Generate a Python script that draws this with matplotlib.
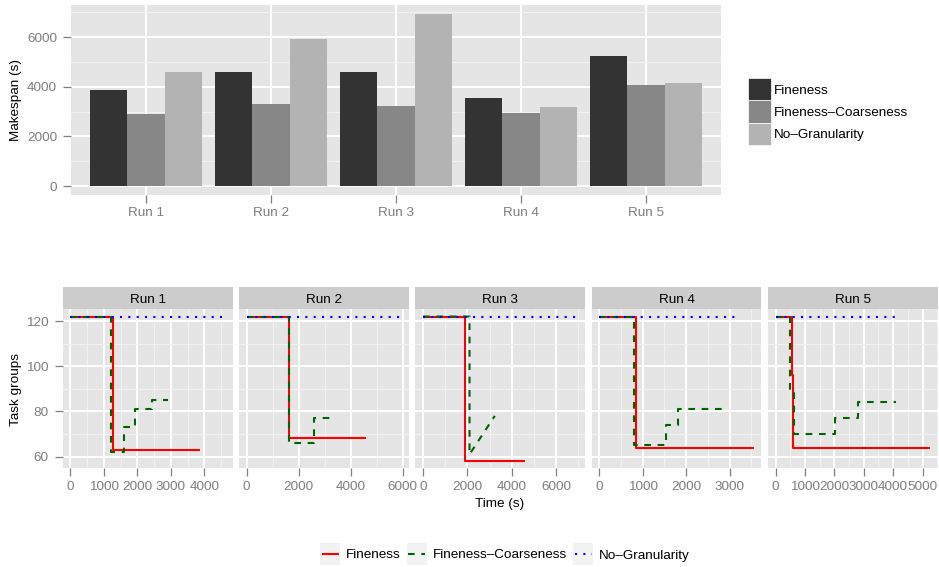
# Makespan per run (bars) and task-group traces over time (faceted lines)
import numpy as np
import matplotlib
matplotlib.use("Agg")
import matplotlib.pyplot as plt
from matplotlib.ticker import MultipleLocator
from matplotlib.patches import Rectangle
from matplotlib.lines import Line2D

# ============================================
# Data
# ============================================
runs = ["Run 1", "Run 2", "Run 3", "Run 4", "Run 5"]
policies = ["Fineness", "Fineness\u2013Coarseness", "No\u2013Granularity"]

# makespan (s) per run
makespan_fine = [3880, 4606, 4606, 3556, 5253]
makespan_coarse = [2909, 3313, 3232, 2949, 4081]
makespan_nogran = [4606, 5939, 6950, 3192, 4162]

# task group traces: vertices (time in s, number of task groups)
fine_time = [[0, 1275, 1275, 3880],
             [0, 1641, 1641, 4606],
             [0, 1906, 1906, 4606],
             [0, 840, 840, 3556],
             [0, 545, 545, 580, 580, 5253]]
fine_groups = [[122, 122, 63, 63],
               [122, 122, 68, 68],
               [122, 122, 58, 58],
               [122, 122, 64, 64],
               [122, 122, 96, 96, 64, 64]]

coarse_time = [[0, 1225, 1225, 1590, 1590, 1930, 1930, 2420, 2420, 2909],
               [0, 1615, 1615, 2600, 2600, 3313],
               [0, 2094, 2094, 3232],
               [0, 808, 808, 1528, 1528, 1808, 1808, 2949],
               [0, 505, 505, 622, 622, 2007, 2007, 2793, 2793, 4081]]
coarse_groups = [[122, 122, 62, 62, 73, 73, 81, 81, 85, 85],
                 [122, 122, 66, 66, 77, 77],
                 [122, 122, 61, 78],
                 [122, 122, 65, 65, 74, 74, 81, 81],
                 [122, 122, 90, 90, 70, 70, 77, 77, 84, 84]]

nogran_time = [[0, 4606], [0, 5939], [0, 6950], [0, 3192], [0, 4162]]
nogran_groups = [[122, 122], [122, 122], [122, 122], [122, 122], [122, 122]]

x_major_step = [1000, 2000, 2000, 1000, 1000]

# ============================================
# Styling
# ============================================
plt.rcParams['font.family'] = ['Liberation Sans', 'DejaVu Sans']
plt.rcParams['font.size'] = 9.7

BAR_COLORS = ["#333333", "#878787", "#B3B3B3"]
LINE_STYLES = [dict(color="red", linestyle="-"),
               dict(color="#006400", linestyle=(0, (3.2, 3.2))),
               dict(color="blue", linestyle=(0, (1, 3)))]
GREY50 = "#7F7F7F"

W, H = 939, 567
fig = plt.figure(figsize=(W / 100, H / 100), dpi=100)


def px_axes(x0, y0, x1, y1):
    # axes placed by pixel box (top-left origin)
    return fig.add_axes([x0 / W, 1 - y1 / H, (x1 - x0) / W, (y1 - y0) / H])


def style_axes(ax):
    ax.set_facecolor("#E5E5E5")
    for s in ax.spines.values():
        s.set_visible(False)
    ax.set_axisbelow(True)
    ax.grid(which="major", color="white", lw=1.4)
    ax.grid(which="minor", color="#F2F2F2", lw=0.7)
    ax.tick_params(which="major", direction="out", length=5.5, width=0.9,
                   color=GREY50, labelcolor=GREY50, labelsize=9.7)
    ax.tick_params(axis="x", which="major", pad=3.5)
    ax.tick_params(axis="y", which="major", pad=4.5)
    ax.tick_params(which="minor", length=0)


# ============================================
# Top: makespan bars
# ============================================
ax = px_axes(71, 5, 721, 194.7)
style_axes(ax)
xpos = np.arange(1, len(runs) + 1)
for k, vals in enumerate([makespan_fine, makespan_coarse, makespan_nogran]):
    ax.bar(xpos + (k - 1) * 0.3, vals, width=0.3, color=BAR_COLORS[k], lw=0)
ax.set_xlim(0.4, len(runs) + 0.6)
ymax = max(makespan_fine + makespan_coarse + makespan_nogran)
ax.set_ylim(-0.05 * ymax, 1.05 * ymax)
ax.set_xticks(xpos, runs)
ax.yaxis.set_major_locator(MultipleLocator(2000))
ax.yaxis.set_minor_locator(MultipleLocator(1000))
fig.text(16 / W, 1 - 100 / H, "Makespan (s)", rotation=90, ha="center", va="center")

# legend for the bars
for k, name in enumerate(policies):
    ky = 78 + k * 22.3
    fig.add_artist(Rectangle((748 / W, 1 - (ky + 22.3) / H), 22.7 / W, 22.3 / H,
                             transform=fig.transFigure, facecolor=BAR_COLORS[k],
                             edgecolor="white", lw=0.5))
    fig.text(774.3 / W, 1 - (ky + 11.2) / H, name, ha="left", va="center_baseline")

# ============================================
# Bottom: task groups per run
# ============================================
all_groups = sum(fine_groups + coarse_groups + nogran_groups, [])
glo, ghi = min(all_groups), max(all_groups)
gpad = 0.05 * (ghi - glo)

for i, run in enumerate(runs):
    x0 = 62.7 + i * 176.3
    x1 = x0 + 169.8
    ax = px_axes(x0, 309.3, x1, 468.3)
    style_axes(ax)
    traces = [(fine_time[i], fine_groups[i]),
              (coarse_time[i], coarse_groups[i]),
              (nogran_time[i], nogran_groups[i])]
    for (t, g), st in zip(traces, LINE_STYLES):
        ax.plot(t, g, lw=1.5, solid_capstyle="butt", dash_capstyle="butt", **st)
    xmax = max(max(t) for t, _ in traces)
    ax.set_xlim(-0.05 * xmax, 1.05 * xmax)
    ax.set_ylim(glo - gpad, ghi + gpad)
    ax.xaxis.set_major_locator(MultipleLocator(x_major_step[i]))
    ax.xaxis.set_minor_locator(MultipleLocator(x_major_step[i] / 2))
    ax.yaxis.set_major_locator(MultipleLocator(20))
    ax.yaxis.set_minor_locator(MultipleLocator(10))
    if i > 0:
        ax.tick_params(axis="y", which="both", left=False, labelleft=False)

    # facet strip
    sax = px_axes(x0, 287.3, x1, 309.3)
    sax.set_facecolor("#CCCCCC")
    for s in sax.spines.values():
        s.set_visible(False)
    sax.set_xticks([])
    sax.set_yticks([])
    sax.text(0.5, 0.5, run, ha="center", va="center_baseline", transform=sax.transAxes)

fig.text(16 / W, 1 - 389 / H, "Task groups", rotation=90, ha="center", va="center")
fig.text(500 / W, 1 - 504 / H, "Time (s)", ha="center", va="center")

# legend for the lines, laid out left to right and centred
renderer = fig.canvas.get_renderer()
key_w, key_h, gap = 20, 21.4, 6
labels = [fig.text(0, 0, name, ha="left", va="center_baseline") for name in policies]
widths = [t.get_window_extent(renderer).width for t in labels]
total = sum(key_w + gap + w for w in widths) + gap * (len(widths) - 1)
cx = 505 - total / 2
cy = 554
for k, (t, w) in enumerate(zip(labels, widths)):
    fig.add_artist(Rectangle((cx / W, 1 - (cy + key_h / 2) / H), key_w / W, key_h / H,
                             transform=fig.transFigure, facecolor="#F2F2F2", lw=0))
    fig.add_artist(Line2D([(cx + 1.5) / W, (cx + key_w - 1.5) / W], [1 - cy / H] * 2,
                          transform=fig.transFigure, lw=1.5, dash_capstyle="butt",
                          solid_capstyle="butt", **LINE_STYLES[k]))
    t.set_position(((cx + key_w + gap) / W, 1 - cy / H))
    cx += key_w + gap + w + gap

fig.savefig("out.png", dpi=100)
